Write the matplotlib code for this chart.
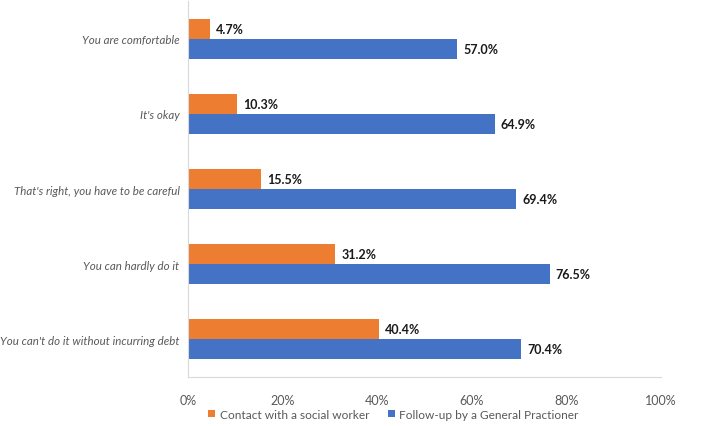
import matplotlib.pyplot as plt
import numpy as np

categories = [
    "You are comfortable",
    "It's okay",
    "That's right, you have to be careful",
    "You can hardly do it",
    "You can't do it without incurring debt",
]
social_worker = [4.7, 10.3, 15.5, 31.2, 40.4]
general_practitioner = [57.0, 64.9, 69.4, 76.5, 70.4]
series_names = ["Contact with a social worker", "Follow-up by a General Practioner"]
xticks = [0, 20, 40, 60, 80, 100]

plt.rcParams["font.family"] = ["Lato", "DejaVu Sans"]

fig = plt.figure(figsize=(7.09, 4.27), dpi=100)
ax = fig.add_axes([0.265, 0.115, 0.667, 0.88])

y = np.arange(len(categories))
h = 0.265

bars_sw = ax.barh(y - h / 2, social_worker, height=h, color="#ED7D31",
                  label=series_names[0])
bars_gp = ax.barh(y + h / 2, general_practitioner, height=h, color="#4472C4",
                  label=series_names[1])

for bars in (bars_sw, bars_gp):
    for b in bars:
        w = b.get_width()
        ax.text(w + 1.3, b.get_y() + b.get_height() / 2, f"{w:.1f}%",
                va="center", ha="left", fontsize=9, fontweight="bold",
                color="#1a1a1a")

ax.set_ylim(len(categories) - 0.5, -0.5)
ax.set_xlim(0, 100)
ax.set_yticks(y)
ax.set_yticklabels(categories, fontsize=8.3, style="italic", color="#595959")
ax.set_xticks(xticks)
ax.set_xticklabels([f"{t}%" for t in xticks], fontsize=9, color="#595959")
ax.tick_params(axis="both", length=0)
ax.tick_params(axis="y", pad=6)
ax.tick_params(axis="x", pad=12)

for side in ("top", "right"):
    ax.spines[side].set_visible(False)
ax.spines["left"].set_color("#d9d9d9")
ax.spines["bottom"].set_color("#d9d9d9")

fig.legend(handles=[bars_sw, bars_gp], labels=series_names, loc="lower center",
           bbox_to_anchor=(0.555, -0.01), ncol=2, frameon=False, fontsize=8.6,
           handlelength=0.6, handleheight=0.6, handletextpad=0.4,
           columnspacing=1.5, labelcolor="#595959")

fig.savefig("out.png", dpi=100)
